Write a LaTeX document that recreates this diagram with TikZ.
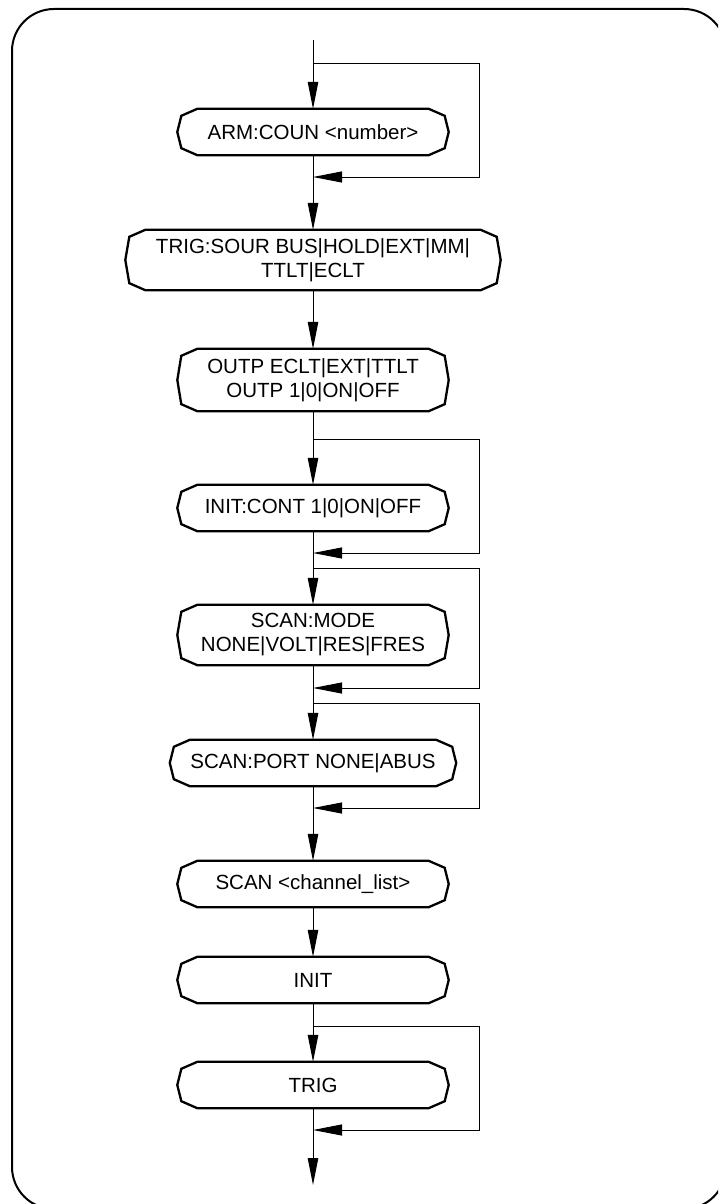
\documentclass[tikz,border=0pt]{standalone}
\usepackage{fontspec}
\setmainfont{Liberation Sans}
\usetikzlibrary{arrows.meta,calc}
\tikzset{
    % command boxes (outline drawn afterwards)
    cmd/.style={rectangle, inner sep=0pt, minimum width=271pt, minimum height=46pt,
                align=center, font=\fontsize{20.5}{24}\selectfont},
    cmd outline/.style={draw, line width=2.3pt, line join=miter},
    % connectors
    flow/.style={-{Triangle[length=27pt,width=10.5pt]}, line width=1pt},
    back/.style={-{Triangle[length=29pt,width=11pt]}, line width=1pt},
    frame/.style={draw, line width=2pt, rounded corners=42pt},
}

\begin{document}
\begin{tikzpicture}[x=1pt, y=-1pt]
    \path[use as bounding box, clip] (0,0) rectangle (718,1204);
    \draw[frame] (12,9) rectangle (726,1209);

    % Commands
    \node[cmd] (arm) at (313,132) {ARM:COUN <number>};
    \node[cmd, minimum width=375pt, minimum height=60pt] (sour) at (313,260) {TRIG:SOUR BUS|HOLD|EXT|MM|\\TTLT|ECLT};
    \node[cmd, minimum height=62pt] (outp) at (313,380) {OUTP ECLT|EXT|TTLT\\OUTP 1|0|ON|OFF};
    \node[cmd] (cont) at (313,508) {INIT:CONT 1|0|ON|OFF};
    \node[cmd, minimum height=60pt] (mode) at (313,635) {SCAN:MODE\\NONE|VOLT|RES|FRES};
    \node[cmd, minimum width=286pt] (port) at (313,763) {SCAN:PORT NONE|ABUS};
    \node[cmd] (scan) at (313,884) {SCAN <channel\_list>};
    \node[cmd] (init) at (313,980) {INIT};
    \node[cmd] (trig) at (313,1085) {TRIG};

    \foreach \n in {arm,sour,outp,cont,mode,port,scan,init,trig} {
        \draw[cmd outline] ($(\n.north west)+(20,0)$) -- ($(\n.north east)+(-20,0)$)
            -- ($(\n.north east)+(-4,7)$) -- (\n.east) -- ($(\n.south east)+(-4,-7)$)
            -- ($(\n.south east)+(-20,0)$) -- ($(\n.south west)+(20,0)$)
            -- ($(\n.south west)+(4,-7)$) -- (\n.west) -- ($(\n.north west)+(4,7)$) -- cycle;
    }

    % Branch and merge points
    \coordinate (in) at (313,40);
    \coordinate (b1) at (313,64);    \coordinate (m1) at (313,177);
    \coordinate (b2) at (313,439);   \coordinate (m2) at (313,553);
    \coordinate (b3) at (313,568);   \coordinate (m3) at (313,688);
    \coordinate (b4) at (313,703);   \coordinate (m4) at (313,808);
    \coordinate (b5) at (313,1026);  \coordinate (m5) at (313,1130);
    \coordinate (out) at (313,1185);

    % Main flow
    \draw[flow] (in) -- (arm.north);
    \draw[flow] (arm.south) -- (sour.north);
    \draw[flow] (sour.south) -- (outp.north);
    \draw[flow] (outp.south) -- (cont.north);
    \draw[flow] (cont.south) -- (mode.north);
    \draw[flow] (mode.south) -- (port.north);
    \draw[flow] (port.south) -- (scan.north);
    \draw[flow] (scan.south) -- (init.north);
    \draw[flow] (init.south) -- (trig.north);
    \draw[flow] (trig.south) -- (out);

    % Bypass loops
    \foreach \i in {1,...,5}
        \draw[back] (b\i) -- ++(166,0) |- (m\i);
\end{tikzpicture}
\end{document}
